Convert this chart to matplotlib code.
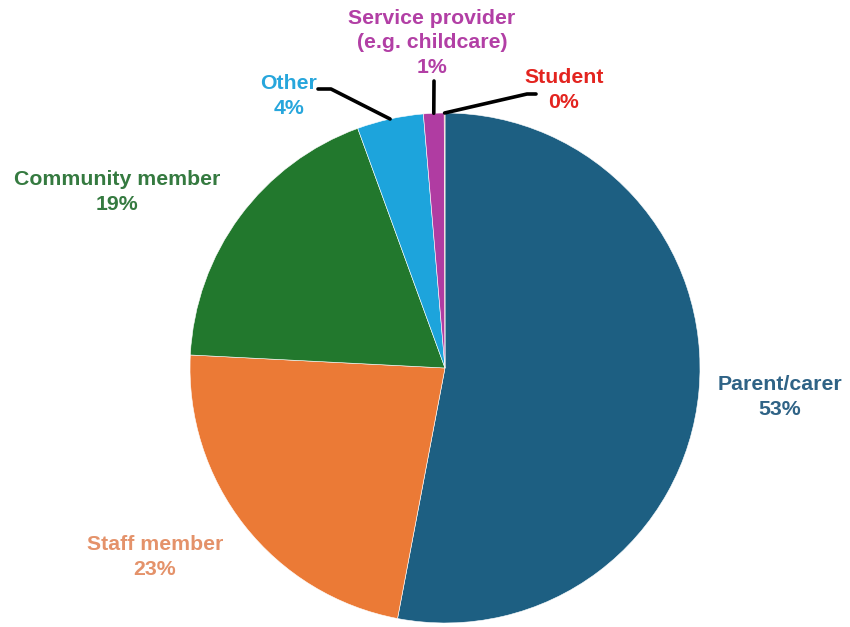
import matplotlib
matplotlib.use("Agg")
import matplotlib.pyplot as plt
import numpy as np

categories = ["Parent/carer", "Staff member", "Community member", "Other",
              "Service provider\n(e.g. childcare)", "Student"]
values = [52.9, 22.8, 18.6, 4.2, 1.3, 0.05]
pct_labels = ["53%", "23%", "19%", "4%", "1%", "0%"]
colors = ["#1d5f82", "#eb7a36", "#22782d", "#1da4dc", "#b03ca2", "#e4261f"]
text_colors = ["#2f6386", "#e4926a", "#357a40", "#27a6dc", "#b23fa5", "#e3241f"]

W, H = 850, 627
fig = plt.figure(figsize=(W / 100, H / 100), dpi=100)
ax = fig.add_axes([0, 0, 1, 1])
cx, cy, R = 445, H - 368, 255

wedges, _ = ax.pie(values, colors=colors, startangle=90, counterclock=False,
                   center=(cx, cy), radius=R,
                   wedgeprops=dict(edgecolor="white", linewidth=0.4))
ax.set_xlim(0, W)
ax.set_ylim(0, H)
ax.set_aspect("equal")
ax.axis("off")

# label block centers (pixels from top-left)
label_pos = [(780, 397), (155, 557), (117, 192), (289, 96), (432, 43), (564, 90)]
# leader lines: (start point near text) for the small slices
leaders = {3: [(318, 89), (331, 89)], 4: [(434, 81)], 5: [(536, 94), (527, 94)]}

for i, (cat, pct) in enumerate(zip(categories, pct_labels)):
    x, y = label_pos[i]
    ax.text(x, H - y, f"{cat}\n{pct}", ha="center", va="center",
            fontsize=15.3, fontweight="bold", color=text_colors[i],
            family=["Liberation Sans", "DejaVu Sans"], linespacing=1.35)
    if i in leaders:
        w = wedges[i]
        ang = np.deg2rad((w.theta1 + w.theta2) / 2)
        ex, ey = cx + R * np.cos(ang), cy + R * np.sin(ang)
        pts = [(px, H - py) for px, py in leaders[i]] + [(ex, ey)]
        xs, ys = zip(*pts)
        ax.plot(xs, ys, color="black", lw=2.6, solid_capstyle="round", zorder=5)

fig.savefig("out.png", dpi=100)
